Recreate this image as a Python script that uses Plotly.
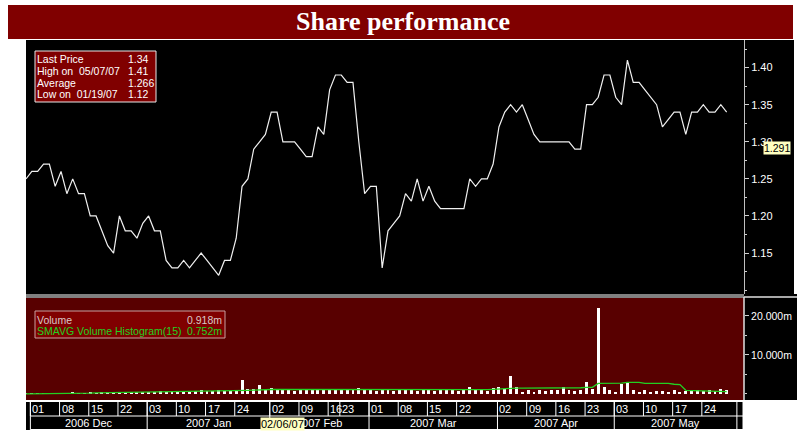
import plotly.graph_objects as go

# ---------------- data ----------------
price = [1.25, 1.26, 1.26, 1.27, 1.27, 1.24, 1.26, 1.23, 1.25, 1.23,
         1.23, 1.20, 1.20, 1.18, 1.16, 1.15, 1.20, 1.18, 1.18, 1.17,
         1.19, 1.20, 1.18, 1.18, 1.14, 1.13, 1.13, 1.14, 1.13, 1.14,
         1.15, 1.14, 1.13, 1.12, 1.14, 1.14, 1.17, 1.24, 1.25, 1.29,
         1.30, 1.31, 1.34, 1.34, 1.30, 1.30, 1.30, 1.29, 1.28, 1.28,
         1.32, 1.31, 1.37, 1.39, 1.39, 1.38, 1.38, 1.30, 1.23, 1.24,
         1.24, 1.13, 1.18, 1.19, 1.20, 1.23, 1.22, 1.25, 1.22, 1.24,
         1.22, 1.21, 1.21, 1.21, 1.21, 1.21, 1.25, 1.24, 1.25, 1.25,
         1.27, 1.32, 1.34, 1.35, 1.34, 1.35, 1.33, 1.31, 1.30, 1.30,
         1.30, 1.30, 1.30, 1.30, 1.29, 1.29, 1.35, 1.35, 1.36, 1.39,
         1.39, 1.36, 1.35, 1.41, 1.38, 1.38, 1.37, 1.36, 1.35, 1.32,
         1.33, 1.34, 1.34, 1.31, 1.34, 1.34, 1.35, 1.34, 1.34, 1.35,
         1.34]

volume = [0.3, 0.3, 0.2, 0.3, 0.3, 0.2, 0.3, 0.3, 0.4, 0.3,
          0.3, 0.4, 0.3, 0.4, 0.4, 0.5, 0.4, 0.5, 0.4, 0.5,
          0.5, 0.6, 0.6, 0.7, 0.6, 0.7, 0.8, 0.7, 0.6, 0.8,
          0.9, 0.7, 0.8, 1.0, 0.7, 0.8, 0.9, 3.5, 1.4, 1.3,
          2.2, 1.0, 1.6, 0.9, 1.0, 1.2, 0.8, 1.0, 0.9, 1.1,
          1.4, 0.9, 1.2, 1.0, 1.3, 0.9, 1.1, 1.6, 1.0, 1.2,
          0.8, 0.9, 1.0, 0.8, 0.9, 1.2, 0.9, 0.8, 0.9, 1.0,
          0.8, 0.9, 0.9, 1.0, 0.8, 1.0, 1.9, 1.2, 0.9, 0.8,
          1.6, 1.9, 1.2, 4.6, 1.9, 0.6, 0.9, 0.6, 0.9, 0.8,
          0.9, 1.0, 1.9, 1.1, 0.8, 1.0, 3.0, 1.4, 22.0, 1.9,
          0.9, 0.6, 2.6, 3.0, 0.9, 0.6, 0.9, 0.6, 0.8, 0.7,
          0.6, 0.9, 0.6, 0.7, 0.8, 0.9, 0.8, 0.9, 0.8, 1.2,
          0.918]

smavg = [0.05, 0.05, 0.06, 0.07, 0.08, 0.1, 0.12, 0.13, 0.15, 0.17,
         0.2, 0.22, 0.3, 0.32, 0.33, 0.35, 0.36, 0.38, 0.38, 0.4,
         0.42, 0.45, 0.47, 0.5, 0.52, 0.55, 0.57, 0.6, 0.6, 0.62,
         0.63, 0.65, 0.67, 0.68, 0.7, 0.72, 0.75, 0.9, 0.95, 1.0,
         1.1, 1.1, 1.15, 1.15, 1.15, 1.15, 1.15, 1.15, 1.15, 1.15,
         1.15, 1.1, 1.0, 1.0, 1.05, 1.05, 1.05, 1.1, 1.1, 1.1,
         1.1, 1.1, 1.1, 1.05, 1.05, 1.05, 1.05, 1.05, 1.05, 1.0,
         1.0, 1.0, 1.0, 1.0, 1.0, 1.05, 1.1, 1.1, 1.1, 1.1,
         1.2, 1.3, 1.3, 1.5, 1.5, 1.5, 1.5, 1.5, 1.5, 1.5,
         1.5, 1.55, 1.6, 1.6, 1.6, 1.6, 1.7, 1.7, 2.7, 2.7,
         2.7, 2.7, 2.8, 3.0, 3.0, 3.0, 2.7, 2.7, 2.7, 2.7,
         2.7, 2.5, 2.4, 0.95, 0.9, 0.8, 0.7, 0.6, 0.6, 0.6,
         0.6]

day_tick_idx = [1, 6, 11, 16, 21, 26, 31, 36, 42, 47, 52, 54,
                59, 64, 69, 74, 81, 86, 91, 96, 101, 106, 111, 116]
day_tick_lbl = ["01", "08", "15", "22", "03", "10", "17", "24", "02", "09", "16", "23",
                "01", "08", "15", "22", "02", "09", "16", "23", "03", "10", "17", "24"]
month_start_idx = [1, 21, 42, 59, 81, 101, 122]
month_lbl = ["2006 Dec", "2007 Jan", "2007 Feb", "2007 Mar", "2007 Apr", "2007 May"]

price_ticks = [1.15, 1.20, 1.25, 1.30, 1.35, 1.40]
vol_ticks = [10, 20]
vol_tick_lbl = ["10.000m", "20.000m"]

info_lbl = ["Last Price", "High on&nbsp;&nbsp;05/07/07", "Average", "Low on&nbsp;&nbsp;01/19/07"]
info_val = ["1.34", "1.41", "1.266", "1.12"]
vol_lbl = ["Volume", "SMAVG Volume Histogram(15)"]
vol_val = ["0.918m", "0.752m"]
cursor_date = "02/06/07"
cursor_idx = 44
cursor_price = 1.291

# ---------------- layout helpers ----------------
W, H = 797, 431
def fx(px):
    return px / W
def fy(py):
    return 1 - py / H

X_LEFT, X_AXIS = 26, 744
X_RANGE = [0, 122.97]
FONT = "Liberation Sans, Arial, sans-serif"
RED = "#800000"
VOLBG = "#580000"
GREEN = "#22d022"

x_idx = list(range(len(price)))

fig = go.Figure()
fig.add_trace(go.Scatter(x=x_idx, y=price, mode="lines",
                         line=dict(color="#f0f0f0", width=1.2),
                         xaxis="x", yaxis="y", hoverinfo="skip"))
fig.add_trace(go.Bar(x=x_idx, y=volume, marker=dict(color="white", line=dict(width=0)),
                     width=0.5, xaxis="x2", yaxis="y2", hoverinfo="skip"))
fig.add_trace(go.Scatter(x=x_idx, y=smavg, mode="lines",
                         line=dict(color=GREEN, width=1.3),
                         xaxis="x2", yaxis="y2", hoverinfo="skip"))

shapes = []
def rect(x0, y0, x1, y1, color, line=None):
    shapes.append(dict(type="rect", xref="paper", yref="paper",
                       x0=fx(x0), x1=fx(x1), y0=fy(y1), y1=fy(y0),
                       fillcolor=color, line=line or dict(width=0), layer="below"))
def pline(x0, y0, x1, y1, color="white", width=1, layer="above"):
    shapes.append(dict(type="line", xref="paper", yref="paper",
                       x0=fx(x0), x1=fx(x1), y0=fy(y0), y1=fy(y1),
                       line=dict(color=color, width=width), layer=layer))

# backgrounds
rect(8, 5, 793, 39, RED)
rect(X_LEFT, 40, 794, 294, "black")
rect(X_LEFT, 294, X_AXIS, 298, "#808080")
rect(X_LEFT, 298, X_AXIS, 400, VOLBG)
rect(X_AXIS, 294, 797, 400, "black")
pline(X_AXIS, 297, 797, 297, "#e0e0e0", 1.5)
pline(X_AXIS, 297, X_AXIS, 400, "#e0e0e0", 1.5)
rect(X_LEFT, 401, 743, 430, "black")

# date band grid
OFF = -0.25
pline(X_LEFT, 401.5, 743, 401.5, "white", 1)
pline(31, 416, 743, 416, "white", 1)
pline(31, 429.5, 743, 429.5, "white", 1)
for k in day_tick_idx:
    shapes.append(dict(type="line", xref="x", yref="paper", x0=k + OFF, x1=k + OFF,
                       y0=fy(416), y1=fy(401.5), line=dict(color="white", width=1)))
for k in month_start_idx:
    shapes.append(dict(type="line", xref="x", yref="paper", x0=k + OFF, x1=k + OFF,
                       y0=fy(430), y1=fy(401.5), line=dict(color="white", width=1)))
pline(743, 401.5, 743, 430, "white", 1)

# legend boxes
rect(35, 51, 156, 102, RED, dict(color="#e8e8e8", width=1))
rect(35, 311, 225, 338, RED, dict(color="#c8a0a0", width=1))

ann = []
def text(x, y, s, color="white", size=10.5, xanchor="left", family=FONT, bold=False):
    ann.append(dict(x=fx(x), y=fy(y), xref="paper", yref="paper",
                    text=("<b>%s</b>" % s) if bold else s, showarrow=False,
                    xanchor=xanchor, yanchor="middle",
                    font=dict(color=color, size=size, family=family)))

text(403, 22, "Share performance", size=26, xanchor="center",
     family="Liberation Serif, Times New Roman, serif", bold=True)

rows_y = [59.5, 71.2, 82.8, 94.3]
for s, v, yy in zip(info_lbl, info_val, rows_y):
    text(35, yy, s)
    text(126, yy, v)

text(35, 319.5, vol_lbl[0], color="#d8c8c8")
text(224, 319.5, vol_val[0], color="#d8c8c8", xanchor="right")
text(35, 331, vol_lbl[1], color=GREEN)
text(224, 331, vol_val[1], color=GREEN, xanchor="right")

for k, s in zip(day_tick_idx, day_tick_lbl):
    ann.append(dict(x=k + OFF, y=fy(408.7), xref="x", yref="paper", text=s, showarrow=False,
                    xanchor="left", yanchor="middle", xshift=0,
                    font=dict(color="white", size=11, family=FONT)))
for a, b, s in zip(month_start_idx[:-1], month_start_idx[1:], month_lbl):
    ann.append(dict(x=(a + b) / 2 + OFF, y=fy(423), xref="x", yref="paper", text=s,
                    showarrow=False, xanchor="center", yanchor="middle",
                    font=dict(color="white", size=11, family=FONT)))

# cursor labels
ann.append(dict(x=cursor_idx, y=fy(423.5), xref="x", yref="paper", text=cursor_date,
                showarrow=False, xanchor="center", yanchor="middle", bgcolor="#ffffc0",
                borderpad=0, font=dict(color="black", size=11, family=FONT)))
ann.append(dict(x=fx(763), y=cursor_price, xref="paper", yref="y", text="%.3f" % cursor_price,
                showarrow=False, xanchor="left", yanchor="middle", bgcolor="#ffffc0",
                borderpad=0, font=dict(color="black", size=10.5, family=FONT)))

axis_common = dict(showgrid=False, zeroline=False)
fig.update_layout(
    width=W, height=H, margin=dict(l=0, r=0, t=0, b=0),
    paper_bgcolor="white", plot_bgcolor="rgba(0,0,0,0)",
    showlegend=False, bargap=0,
    xaxis=dict(domain=[fx(X_LEFT), fx(X_AXIS)], range=X_RANGE, visible=False, anchor="y"),
    xaxis2=dict(domain=[fx(X_LEFT), fx(X_AXIS)], range=X_RANGE, visible=False, anchor="y2", matches="x"),
    yaxis=dict(domain=[fy(294), fy(40)], range=[1.0948, 1.4372], side="right", anchor="x",
               tickvals=price_ticks, ticktext=["%.2f" % t for t in price_ticks],
               ticks="outside", ticklen=4, tickcolor="#d0d0d0", showline=True,
               linecolor="#c0c0c0", linewidth=1, tickfont=dict(color="white", size=11, family=FONT),
               minor=dict(ticks="outside", ticklen=2, dtick=0.025, tick0=1.0, tickcolor="#d0d0d0"),
               **axis_common),
    yaxis2=dict(domain=[fy(400), fy(298)], range=[-1.54, 24.6], side="right", anchor="x2",
                tickvals=vol_ticks, ticktext=vol_tick_lbl,
                ticks="outside", ticklen=4, tickcolor="#d0d0d0", showline=False,
                tickfont=dict(color="white", size=10.5, family=FONT),
                minor=dict(ticks="outside", ticklen=2, dtick=5, tick0=0, tickcolor="#d0d0d0"),
                **axis_common),
    shapes=shapes, annotations=ann,
)

fig.write_html("out.html",
               config={"displayModeBar": False, "staticPlot": True},
               post_script="document.body.style.margin='0';document.body.style.padding='0';"
                           "document.body.style.overflow='hidden';")
